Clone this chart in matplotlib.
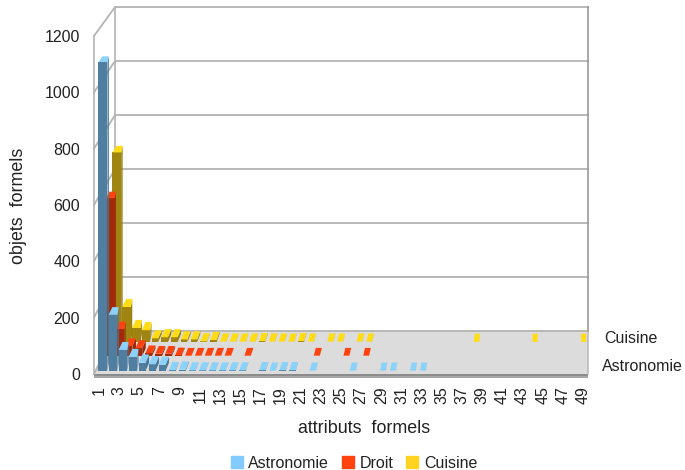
import matplotlib
matplotlib.use('agg')
import matplotlib.pyplot as plt
from matplotlib.patches import Patch

plt.rcParams['font.family'] = ['Liberation Sans', 'DejaVu Sans']
plt.rcParams['font.size'] = 11.5

series_names = ['Astronomie', 'Droit', 'Cuisine']

astro_attrs = [1, 2, 3, 4, 5, 6, 7, 8, 9, 10, 11, 12, 13, 14, 15, 17, 18, 19, 20, 22, 26, 29, 30, 32, 33]
astro_vals = [1100, 200, 75, 50, 30, 24, 22, 3, 5, 2, 2, 2, 2, 2, 2, 3, 1, 3, 3, 1, 1, 1, 1, 1, 1]

droit_attrs = [1, 2, 3, 4, 5, 6, 7, 8, 9, 10, 11, 12, 13, 15, 22, 25, 27]
droit_vals = [570, 97, 36, 29, 10, 8, 8, 2, 1, 1, 1, 1, 1, 1, 1, 1, 1]

cuisine_attrs = [1, 2, 3, 4, 5, 6, 7, 8, 9, 10, 11, 12, 13, 14, 15, 16, 17, 18, 19, 20, 21, 23, 24, 26, 27, 38, 44, 49]
cuisine_vals = [695, 129, 52, 44, 14, 18, 18, 10, 10, 3, 8, 2, 2, 2, 2, 4, 2, 2, 2, 4, 2, 2, 2, 2, 2, 1, 1, 1]

y_ticks = [0, 200, 400, 600, 800, 1000, 1200]
x_ticks = list(range(1, 50, 2))

# perspective of the fake 3d box, in data units
DEPTH_X = 2.083
DEPTH_Y = 152.7
SHRINK_X = 0.0425
SHRINK_Y = 0.0415


def project(t, v, d):
    return DEPTH_X * d + t * (1 - SHRINK_X * d), DEPTH_Y * d + v * (1 - SHRINK_Y * d)


def face(ax, corners, color, zorder):
    pts = [project(*c) for c in corners]
    ax.fill([p[0] for p in pts], [p[1] for p in pts], color=color, lw=0, zorder=zorder, clip_on=False)


def box(ax, k, v, d0, d1, colors):
    t0 = k - 1 + 0.3
    tall = v >= 40
    t1 = t0 + (0.9 - 0.4 * k / 49 if tall else 0.7 - 0.2 * k / 49)
    # taller bars taper towards the back, their right edge stays almost upright
    t1_back = t1 - 0.25 if tall else t1
    face(ax, [(t1, 0, d0), (t1_back, 0, d1), (t1_back, v, d1), (t1, v, d0)], colors[2], 3)
    face(ax, [(t0, 0, d0), (t1, 0, d0), (t1, v, d0), (t0, v, d0)], colors[1], 3)
    face(ax, [(t0, v, d0), (t1, v, d0), (t1_back, v, d1), (t0, v, d1)], colors[0], 3)


fig = plt.figure(figsize=(6.85, 4.7), dpi=100)
ax = fig.add_axes([94 / 685, 1 - 374 / 470, 494 / 685, 338 / 470])
ax.set_xlim(0, 49)
ax.set_ylim(0, 1200)
for s in ax.spines.values():
    s.set_visible(False)
ax.patch.set_alpha(0)

wall = '#b3b3b3'
# floor and its front slab
face(ax, [(0, 0, 0), (49, 0, 0), (49, 0, 1), (0, 0, 1)], '#dcdcdc', 1)
face(ax, [(0, 0, 0), (49, 0, 0), (49, -7, 0), (0, -7, 0)], '#8c8c8c', 1)
face(ax, [(0, -7, 0), (49, -7, 0), (49, -14, 0), (0, -14, 0)], '#a8a8a8', 1)

# walls
for v in y_ticks:
    xs, ys = zip(project(0, v, 0), project(0, v, 1), project(49, v, 1))
    ax.plot(xs, ys, color=wall, lw=1.3, zorder=1.5, clip_on=False)
for t, d in [(0, 0), (0, 1), (49, 1)]:
    xs, ys = zip(project(t, 0, d), project(t, 1200, d))
    ax.plot(xs, ys, color=wall if t == 0 else '#999999', lw=1.2, zorder=1.5, clip_on=False)
xs, ys = zip(project(49, 0, 0), project(49, 0, 1))
ax.plot(xs, ys, color=wall, lw=1, zorder=1.5, clip_on=False)

# back row first so nearer rows cover it
cuisine_cols = ['#ffdc14', '#a08412', '#98800f']
droit_cols = ['#ff420e', '#a02a0a', '#962709']
astro_cols = ['#8ad2fa', '#4f7ea0', '#4a7898']
for k, v in zip(cuisine_attrs, cuisine_vals):
    box(ax, k, v, 0.74, 0.93, cuisine_cols)
for k, v in zip(droit_attrs, droit_vals):
    box(ax, k, v, 0.42, 0.60, droit_cols)
for k, v in zip(astro_attrs, astro_vals):
    box(ax, k, v, 0.07, 0.26, astro_cols)

text_col = '#222222'
ax.set_yticks(y_ticks)
ax.set_xticks([k - 0.5 for k in x_ticks])
ax.set_xticklabels([str(k) for k in x_ticks], rotation=90, color=text_col)
ax.tick_params(axis='y', length=0, pad=10, labelcolor=text_col)
ax.tick_params(axis='x', length=0, pad=9)
ax.set_xlabel('attributs  formels', color=text_col, fontsize=12.9)
ax.set_ylabel('objets  formels', color=text_col, fontsize=12.9)
ax.xaxis.set_label_coords(0.5466, -0.136)
ax.yaxis.set_label_coords(-0.136, 0.497)

ax.text(50.6, project(49, 0, 5 / 6)[1], series_names[2], va='center', color=text_col, clip_on=False)
ax.text(50.4, project(49, 0, 1 / 6)[1], series_names[0], va='center', color=text_col, clip_on=False)

handles = [Patch(color=c) for c in ['#83caff', '#ff420e', '#ffd320']]
fig.legend(handles, series_names, loc='center', bbox_to_anchor=(354 / 685, 1 - 463 / 470), ncol=3,
           frameon=False, handlelength=0.75, handleheight=0.7, handletextpad=0.35,
           columnspacing=0.8, borderpad=0, labelcolor=text_col)

fig.savefig('out.png', dpi=100)
plt.close()
